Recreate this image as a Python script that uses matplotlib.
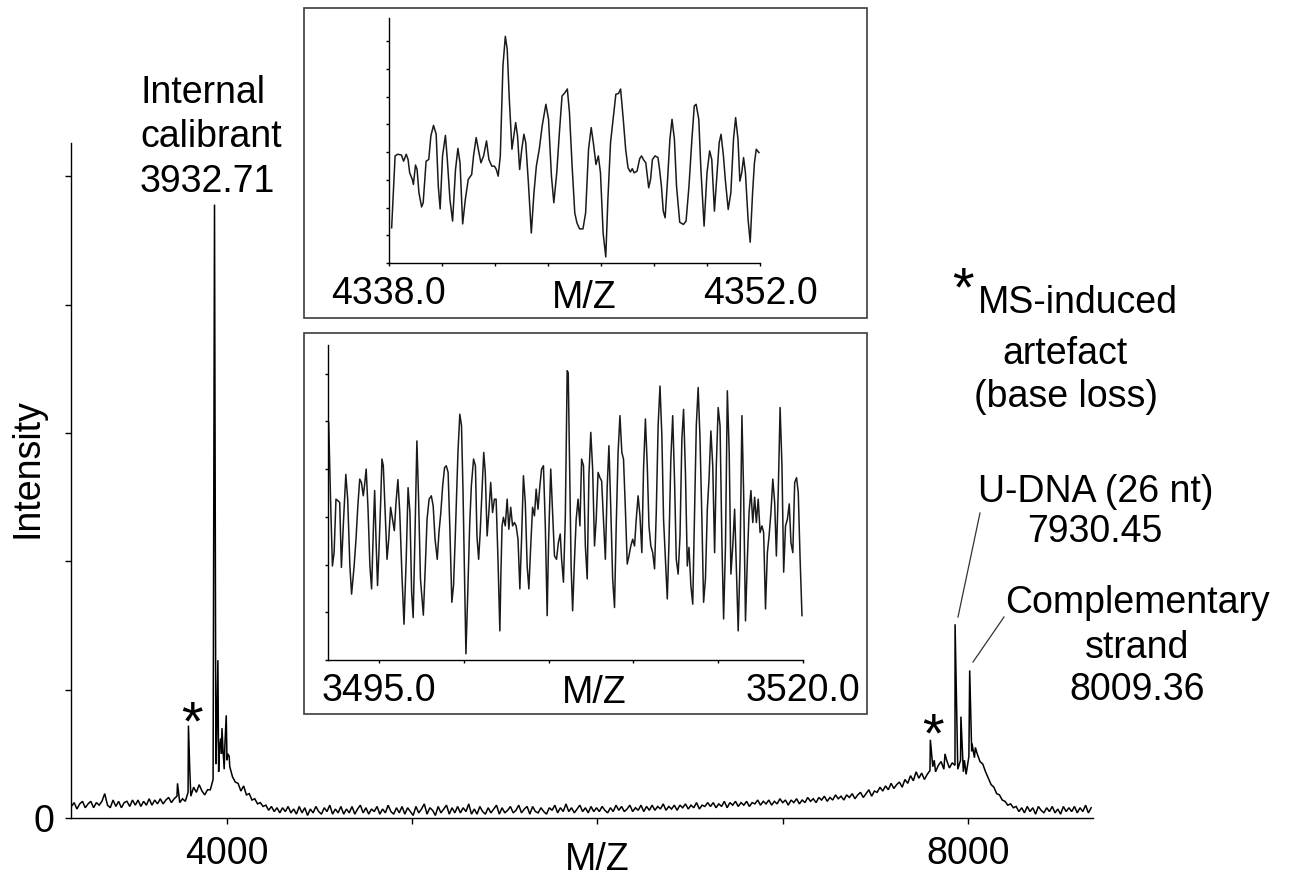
import numpy as np
import matplotlib
matplotlib.use("Agg")
import matplotlib.pyplot as plt
from matplotlib.patches import Rectangle
from matplotlib.lines import Line2D

plt.rcParams['font.family'] = ['Liberation Sans', 'DejaVu Sans']

# ---------------------------------------------------------------- data
# Full-range spectrum: intensity sampled every 15 m/z starting at 3160
MZ_START, MZ_STEP = 3160, 15
spectrum_baseline = [
    .09, .12, .07, .11, .13, .08, .11, .13, .08, .12,   # 3160
    .10, .13, .19, .10, .08, .14, .09, .13, .08, .12,   # 3310
    .13, .09, .14, .10, .14, .09, .13, .10, .15, .10,   # 3460
    .14, .11, .15, .11, .14, .16, .12, .15, .17, .12,   # 3610
    .15, .13, .20, .17, .24, .20, .26, .21, .18, .22,   # 3760
    .22, .30, .42, .36, .50, .38, .45, .40, .32, .28,   # 3910
    .27, .21, .25, .18, .19, .14, .15, .11, .12, .09,   # 4060
    .10, .06, .09, .05, .08, .04, .08, .05, .09, .04,   # 4210
    .07, .03, .09, .04, .08, .02, .07, .04, .09, .05,   # 4360
    .03, .08, .05, .10, .03, .07, .04, .09, .03, .07,   # 4510
    .04, .09, .03, .07, .10, .04, .08, .03, .07, .05,   # 4660
    .09, .03, .07, .04, .10, .05, .03, .08, .04, .09,   # 4810
    .03, .08, .05, .02, .09, .04, .07, .11, .03, .08,   # 4960
    .06, .02, .09, .04, .07, .10, .03, .08, .04, .09,   # 5110
    .04, .08, .05, .11, .03, .07, .03, .09, .05, .03,   # 5260
    .08, .04, .07, .10, .03, .08, .04, .06, .09, .04,   # 5410
    .06, .10, .04, .07, .09, .03, .09, .05, .04, .08,   # 5560
    .05, .03, .08, .06, .10, .04, .08, .05, .11, .05,   # 5710
    .08, .04, .07, .10, .05, .08, .04, .09, .05, .08,   # 5860
    .05, .09, .06, .04, .08, .05, .10, .06, .09, .05,   # 6010
    .07, .10, .05, .08, .06, .10, .05, .09, .06, .10,   # 6160
    .06, .09, .07, .11, .06, .09, .07, .10, .06, .10,   # 6310
    .08, .11, .07, .10, .08, .12, .07, .10, .09, .12,   # 6460
    .09, .12, .08, .11, .09, .13, .08, .12, .10, .13,   # 6610
    .09, .12, .10, .13, .09, .12, .11, .14, .10, .13,   # 6760
    .11, .14, .10, .13, .11, .15, .12, .14, .10, .14,   # 6910
    .12, .15, .11, .14, .12, .16, .13, .15, .12, .16,   # 7060
    .14, .17, .13, .16, .14, .18, .15, .17, .14, .18,   # 7210
    .16, .19, .15, .18, .20, .16, .19, .22, .17, .21,   # 7360
    .20, .24, .21, .25, .22, .27, .23, .26, .28, .24,   # 7510
    .30, .27, .33, .29, .36, .31, .35, .30, .34, .37,   # 7660
    .40, .36, .41, .44, .38, .45, .39, .43, .41, .38,   # 7810
    .45, .36, .34, .48, .52, .47, .50, .44, .42, .36,   # 7960
    .31, .26, .24, .19, .18, .14, .13, .10, .11, .08,   # 8110
    .09, .05, .08, .04, .09, .05, .08, .03, .09, .06,   # 8260
    .04, .08, .05, .09, .04, .07, .03, .09, .05, .08,   # 8410
    .05, .09, .04, .08, .05, .10, .04, .08,             # 8560
]

# Sharp ion peaks (apex m/z, apex intensity)
peak_mz = [3733, 3792, 3799, 3932.71, 3944, 3951, 3959, 3966, 3973, 3979,
           3989, 3996, 4005, 4012,
           7797, 7818, 7876, 7930.45, 7962, 7981, 8009.36, 8022, 8040]
peak_intensity = [0.27, 0.72, 0.38, 4.78, 0.62, 1.23, 0.55, 0.62, 0.70, 0.52,
                  0.58, 0.80, 0.50, 0.48,
                  0.61, 0.45, 0.50, 1.51, 0.79, 0.45, 1.15, 0.58, 0.55]

# Zoomed trace 4338-4352
zoom_hi_mz = [
    4338.10, 4338.23, 4338.33, 4338.47, 4338.55, 4338.65, 4338.72, 4338.78, 4338.88, 4338.92,
    4339.00, 4339.06, 4339.13, 4339.23, 4339.29, 4339.40, 4339.50, 4339.58, 4339.68, 4339.78,
    4339.86, 4339.93, 4340.02, 4340.13, 4340.20, 4340.30, 4340.40, 4340.51, 4340.60, 4340.68,
    4340.78, 4340.88, 4340.99, 4341.12, 4341.19, 4341.29, 4341.37, 4341.47, 4341.57, 4341.68,
    4341.77, 4341.88, 4341.98, 4342.05, 4342.12, 4342.20, 4342.30, 4342.39, 4342.46, 4342.54,
    4342.64, 4342.71, 4342.78, 4342.85, 4342.93, 4343.01, 4343.09, 4343.16, 4343.26, 4343.37,
    4343.47, 4343.56, 4343.67, 4343.78, 4343.92, 4344.02, 4344.13, 4344.22, 4344.33, 4344.43,
    4344.53, 4344.64, 4344.73, 4344.81, 4344.91, 4345.01, 4345.09, 4345.19, 4345.32, 4345.42,
    4345.53, 4345.63, 4345.71, 4345.81, 4345.90, 4345.98, 4346.08, 4346.18, 4346.26, 4346.36,
    4346.47, 4346.56, 4346.66, 4346.74, 4346.84, 4346.93, 4347.02, 4347.11, 4347.18, 4347.25,
    4347.36, 4347.46, 4347.53, 4347.60, 4347.69, 4347.80, 4347.87, 4347.94, 4348.04, 4348.15,
    4348.21, 4348.28, 4348.35, 4348.42, 4348.52, 4348.60, 4348.68, 4348.77, 4348.85, 4348.97,
    4349.11, 4349.21, 4349.32, 4349.43, 4349.52, 4349.59, 4349.69, 4349.77, 4349.89, 4350.00,
    4350.10, 4350.18, 4350.28, 4350.38, 4350.46, 4350.53, 4350.62, 4350.69, 4350.80, 4350.90,
    4351.00, 4351.08, 4351.17, 4351.24, 4351.31, 4351.38, 4351.45, 4351.55, 4351.63, 4351.72,
    4351.79, 4351.86, 4351.96,
]
zoom_hi_int = [
    1.27, 3.86, 3.92, 3.89, 3.67, 3.92, 3.73, 3.25, 3.01, 2.83,
    3.53, 3.37, 2.53, 2.02, 2.17, 3.67, 3.73, 4.58, 4.96, 4.64,
    2.77, 1.95, 3.86, 4.60, 3.73, 2.29, 1.51, 3.37, 4.13, 3.61,
    1.41, 2.29, 3.01, 3.19, 3.86, 4.52, 4.10, 3.61, 3.86, 4.40,
    3.73, 3.49, 3.49, 3.37, 3.13, 3.86, 7.11, 8.17, 7.71, 5.90,
    4.10, 4.58, 5.06, 4.58, 3.37, 4.10, 4.64, 4.34, 2.89, 1.08,
    2.53, 3.49, 4.10, 4.94, 5.72, 5.18, 3.13, 2.17, 3.25, 4.70,
    6.02, 6.14, 6.27, 5.42, 3.49, 1.81, 1.45, 1.23, 1.23, 1.81,
    4.10, 4.88, 4.34, 3.55, 3.86, 3.25, 1.08, 0.22, 2.29, 4.34,
    5.30, 6.08, 6.11, 6.27, 5.18, 4.10, 3.43, 3.28, 3.40, 3.25,
    3.31, 3.76, 3.86, 3.73, 3.61, 2.71, 3.01, 3.73, 3.86, 3.80,
    3.37, 2.77, 1.87, 1.63, 3.13, 4.46, 5.18, 4.46, 2.77, 1.47,
    1.39, 1.51, 2.77, 4.46, 5.66, 5.72, 5.18, 3.37, 1.33, 3.25,
    4.04, 3.73, 1.87, 3.25, 4.34, 4.64, 3.86, 3.01, 1.93, 2.53,
    4.46, 5.24, 4.46, 2.95, 3.25, 3.80, 3.25, 1.57, 0.75, 2.53,
    3.61, 4.10, 3.98,
]

# Zoomed trace 3492-3520
zoom_lo_mz = [
    3492.04, 3492.15, 3492.26, 3492.36, 3492.47, 3492.58, 3492.69, 3492.79, 3492.90, 3493.05,
    3493.16, 3493.29, 3493.39, 3493.54, 3493.65, 3493.76, 3493.87, 3493.97, 3494.08, 3494.15,
    3494.25, 3494.36, 3494.47, 3494.57, 3494.68, 3494.75, 3494.83, 3494.92, 3495.00, 3495.11,
    3495.18, 3495.26, 3495.37, 3495.48, 3495.58, 3495.69, 3495.80, 3495.91, 3496.01, 3496.12,
    3496.23, 3496.36, 3496.48, 3496.61, 3496.72, 3496.83, 3496.93, 3497.02, 3497.13, 3497.24,
    3497.34, 3497.45, 3497.62, 3497.73, 3497.84, 3497.96, 3498.09, 3498.20, 3498.31, 3498.44,
    3498.54, 3498.65, 3498.76, 3498.87, 3498.97, 3499.08, 3499.19, 3499.30, 3499.40, 3499.51,
    3499.66, 3499.77, 3499.87, 3499.96, 3500.05, 3500.13, 3500.24, 3500.35, 3500.45, 3500.58,
    3500.69, 3500.78, 3500.88, 3500.97, 3501.10, 3501.18, 3501.27, 3501.38, 3501.48, 3501.59,
    3501.70, 3501.81, 3501.91, 3502.02, 3502.13, 3502.19, 3502.26, 3502.34, 3502.45, 3502.56,
    3502.66, 3502.77, 3502.88, 3502.99, 3503.09, 3503.20, 3503.31, 3503.41, 3503.52, 3503.63,
    3503.74, 3503.84, 3503.95, 3504.06, 3504.17, 3504.27, 3504.38, 3504.49, 3504.59, 3504.70,
    3504.81, 3504.92, 3505.00, 3505.13, 3505.24, 3505.35, 3505.47, 3505.58, 3505.69, 3505.77,
    3505.88, 3505.99, 3506.10, 3506.16, 3506.25, 3506.33, 3506.42, 3506.53, 3506.63, 3506.74,
    3506.85, 3506.95, 3507.06, 3507.17, 3507.28, 3507.38, 3507.49, 3507.60, 3507.71, 3507.81,
    3507.92, 3508.03, 3508.13, 3508.24, 3508.35, 3508.46, 3508.56, 3508.67, 3508.78, 3508.89,
    3508.99, 3509.10, 3509.21, 3509.32, 3509.42, 3509.53, 3509.64, 3509.74, 3509.85, 3509.96,
    3510.07, 3510.17, 3510.28, 3510.39, 3510.50, 3510.60, 3510.71, 3510.82, 3510.92, 3511.03,
    3511.14, 3511.25, 3511.35, 3511.46, 3511.57, 3511.68, 3511.78, 3511.89, 3512.00, 3512.10,
    3512.21, 3512.32, 3512.43, 3512.53, 3512.64, 3512.75, 3512.86, 3512.96, 3513.07, 3513.18,
    3513.28, 3513.39, 3513.50, 3513.61, 3513.71, 3513.82, 3513.93, 3514.04, 3514.14, 3514.25,
    3514.36, 3514.46, 3514.57, 3514.68, 3514.79, 3514.89, 3515.00, 3515.11, 3515.22, 3515.32,
    3515.43, 3515.54, 3515.65, 3515.75, 3515.86, 3515.97, 3516.07, 3516.18, 3516.29, 3516.40,
    3516.50, 3516.61, 3516.72, 3516.82, 3516.93, 3517.04, 3517.15, 3517.25, 3517.36, 3517.47,
    3517.58, 3517.68, 3517.79, 3517.90, 3518.00, 3518.11, 3518.22, 3518.33, 3518.43, 3518.54,
    3518.65, 3518.76, 3518.86, 3518.97, 3519.08, 3519.19, 3519.29, 3519.40, 3519.51, 3519.62,
    3519.72, 3519.83, 3519.94,
]
zoom_lo_int = [
    4.98, 3.37, 1.97, 2.25, 3.37, 3.34, 3.30, 1.94, 2.81, 3.89,
    3.37, 1.97, 1.38, 1.97, 2.53, 3.23, 3.79, 3.72, 3.44, 3.65,
    4.00, 3.16, 1.97, 1.49, 2.81, 3.55, 2.53, 1.56, 2.25, 3.37,
    4.21, 4.07, 3.09, 2.11, 2.53, 3.20, 2.95, 2.71, 3.30, 3.78,
    3.09, 1.77, 0.75, 2.11, 3.61, 3.09, 1.42, 0.89, 2.67, 4.59,
    3.37, 1.70, 0.94, 1.91, 2.95, 3.37, 3.44, 3.23, 2.53, 2.11,
    2.67, 3.09, 3.65, 4.03, 4.07, 3.93, 2.67, 1.21, 1.56, 2.67,
    4.35, 5.15, 4.91, 3.51, 1.77, 0.13, 1.42, 2.81, 3.65, 4.21,
    4.07, 2.60, 2.11, 2.67, 3.72, 4.35, 3.93, 2.60, 3.09, 3.72,
    3.09, 3.37, 3.37, 2.11, 0.61, 1.77, 2.81, 2.99, 2.81, 3.37,
    2.74, 3.20, 2.81, 2.88, 2.81, 2.53, 1.49, 2.53, 3.86, 3.30,
    1.97, 1.49, 2.39, 3.20, 3.02, 3.58, 3.16, 3.65, 4.00, 4.07,
    2.81, 0.93, 2.46, 4.00, 3.09, 2.18, 2.11, 2.46, 2.64, 2.11,
    1.63, 3.02, 6.06, 6.02, 3.86, 1.97, 1.03, 2.11, 2.95, 3.37,
    2.81, 4.21, 4.07, 2.39, 1.70, 3.86, 4.77, 4.00, 2.39, 2.95,
    3.93, 3.82, 3.75, 2.95, 2.11, 3.65, 4.49, 3.16, 1.70, 1.10,
    2.81, 4.35, 5.12, 4.35, 4.21, 3.16, 2.01, 2.18, 2.39, 2.53,
    2.39, 2.95, 3.44, 3.02, 2.25, 4.00, 5.05, 4.07, 2.81, 2.39,
    2.25, 1.91, 3.09, 4.91, 5.74, 4.70, 2.95, 2.11, 1.28, 2.46,
    4.21, 5.12, 3.72, 2.11, 1.80, 2.60, 4.63, 5.25, 3.93, 1.97,
    2.36, 1.56, 1.17, 3.16, 4.91, 5.71, 4.63, 2.95, 1.21, 1.70,
    3.16, 3.79, 4.80, 4.07, 2.25, 4.07, 5.29, 4.91, 2.46, 0.86,
    2.39, 5.64, 4.35, 1.80, 2.39, 3.16, 1.91, 0.61, 2.11, 5.12,
    3.51, 0.82, 2.11, 3.09, 3.55, 2.88, 3.41, 2.88, 3.37, 2.67,
    2.81, 2.67, 1.07, 2.25, 2.60, 3.09, 3.79, 3.30, 2.18, 3.51,
    5.29, 4.07, 1.84, 2.81, 2.95, 3.27, 2.46, 2.25, 3.72, 3.82,
    3.51, 2.11, 0.93,
]

# ---------------------------------------------------------------- layout helpers
W, H, DPI = 1291, 877, 100
FS = 27


def fx(x):
    return x / W


def fy(y):
    return 1 - y / H


def rect(left, top, right, bottom):
    return [fx(left), fy(bottom), fx(right) - fx(left), fy(top) - fy(bottom)]


fig = plt.figure(figsize=(W / DPI, H / DPI), dpi=DPI)

# ---------------------------------------------------------------- main spectrum
grid_mz = MZ_START + MZ_STEP * np.arange(len(spectrum_baseline))
mz_all = np.concatenate([grid_mz, peak_mz])
int_all = np.concatenate([spectrum_baseline, peak_intensity])
order = np.argsort(mz_all)

ax = fig.add_axes(rect(71, 143, 1093, 818))
ax.plot(mz_all[order], int_all[order], color='black', lw=1.1, solid_joinstyle='miter')
ax.set_xlim(3158, 8675)
ax.set_ylim(0, 5.26)
for s in ('top', 'right'):
    ax.spines[s].set_visible(False)
for s in ('left', 'bottom'):
    ax.spines[s].set_linewidth(1.0)
ax.set_xticks([4000, 5000, 6000, 7000, 8000], ['4000', '', '', '', '8000'])
ax.set_yticks([0, 1, 2, 3, 4, 5], ['0', '', '', '', '', ''])
ax.tick_params(axis='both', direction='out', length=4, width=1.0, labelsize=FS)
ax.tick_params(axis='x', pad=9)
ax.tick_params(axis='y', pad=8)
ax.set_facecolor('none')

fig.text(fx(597), fy(870), 'M/Z', fontsize=FS, ha='center', va='baseline')
fig.text(fx(28), fy(468), 'Intensity', fontsize=FS, rotation=90, ha='center', va='center')


# ---------------------------------------------------------------- insets
def inset(frame, axes_box, mz, inten, xlim, ylim, xticks, xlabels, yticks, label_pos):
    l, t, r, b = frame
    fig.add_artist(Rectangle((fx(l), fy(b)), fx(r) - fx(l), fy(t) - fy(b),
                             transform=fig.transFigure, facecolor='white',
                             edgecolor='#3c3c3c', lw=1.2, zorder=2))
    a = fig.add_axes(rect(*axes_box), zorder=3)
    a.set_facecolor('none')
    a.plot(mz, inten, color='#1a1a1a', lw=1.1)
    a.set_xlim(*xlim)
    a.set_ylim(*ylim)
    for s in ('top', 'right'):
        a.spines[s].set_visible(False)
    for s in ('left', 'bottom'):
        a.spines[s].set_linewidth(1.0)
    a.set_xticks(xticks, xlabels)
    a.set_yticks(yticks, [''] * len(yticks))
    a.tick_params(axis='both', direction='out', length=2.5, width=1.0, labelsize=FS)
    a.tick_params(axis='x', pad=7)
    fig.text(fx(label_pos[0]), fy(label_pos[1]), 'M/Z', fontsize=FS,
             ha='center', va='baseline', zorder=4)
    return a


hi_ticks = [4338, 4340, 4342, 4344, 4346, 4348, 4350, 4352]
inset((304, 8, 867, 318), (389, 18, 760, 263), zoom_hi_mz, zoom_hi_int,
      (4338, 4352), (0, 8.83), hi_ticks,
      ['4338.0', '', '', '', '', '', '', '4352.0'], list(range(9)), (584, 308))

lo_ticks = [3495, 3500, 3505, 3510, 3515, 3520]
inset((304, 333, 867, 714), (328, 345, 803, 660), zoom_lo_mz, zoom_lo_int,
      (3492, 3520), (0, 6.6), lo_ticks,
      ['3495.0', '', '', '', '', '3520.0'], list(range(7)), (594, 703))

# ---------------------------------------------------------------- annotations
def line_text(x, y, s, ha='center'):
    fig.text(fx(x), fy(y), s, fontsize=FS, ha=ha, va='baseline')


def star(x, y):
    fig.text(fx(x), fy(y + 29), '*', fontsize=40, ha='center', va='baseline')


line_text(140, 103, 'Internal', ha='left')
line_text(140, 147, 'calibrant', ha='left')
line_text(140, 192, '3932.71', ha='left')

star(963, 276)
line_text(1078, 313, 'MS-induced')
line_text(1065, 364, 'artefact')
line_text(1066, 407, '(base loss)')

line_text(1096, 502, 'U-DNA (26 nt)')
line_text(1095, 542, '7930.45')

line_text(1137, 613, 'Complementary')
line_text(1137, 658, 'strand')
line_text(1137, 700, '8009.36')

star(192, 710)
star(933, 722)

# leader lines from labels to their peaks
for (x0, y0, x1, y1) in [(980, 513, 958, 617), (1004, 617, 973, 662)]:
    fig.add_artist(Line2D([fx(x0), fx(x1)], [fy(y0), fy(y1)], transform=fig.transFigure,
                          color='#333333', lw=0.9))

fig.savefig('out.png', dpi=DPI)
